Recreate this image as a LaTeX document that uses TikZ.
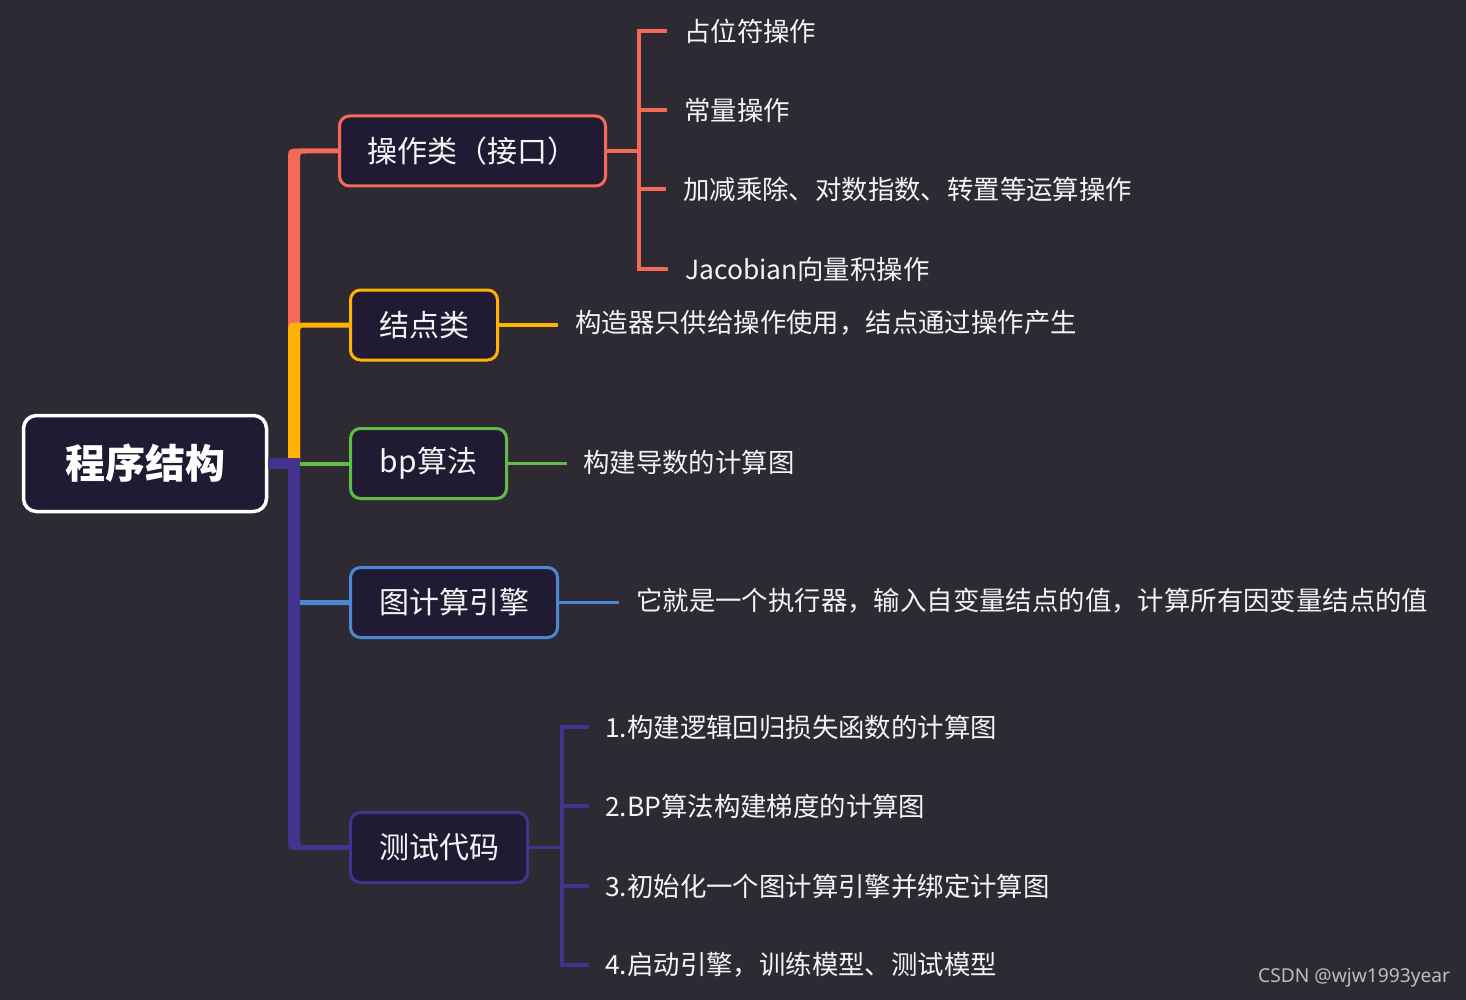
\documentclass[tikz,border=0pt]{standalone}
\usepackage{fontspec}
\setmainfont{Noto Sans CJK SC}
\newfontfamily\wmfont{Noto Sans}
\usetikzlibrary{calc}
\definecolor{bgc}{HTML}{2E2A33}
\definecolor{boxfill}{HTML}{211A33}
\definecolor{redc}{HTML}{F56A57}
\definecolor{yelc}{HTML}{FFB300}
\definecolor{grnc}{HTML}{62BB47}
\definecolor{bluc}{HTML}{4A88D4}
\definecolor{purc}{HTML}{43338F}
\definecolor{txtc}{HTML}{F4F4F4}
\definecolor{wmgray}{HTML}{BDBDBD}
\newcommand\mmbranch[4]{%
  \fill[#1] let \p1=(trunk), \p2=(#2.west) in
    ({\x1-#4},\y1) -- ({\x1-#4},{\y2-#3*11pt})
    .. controls ({\x1-#4},{\y2+#3*2.5pt}) .. ({\x1+5pt},{\y2+#3*2.5pt})
    -- (\x2,{\y2+#3*2.5pt}) -- (\x2,{\y2-#3*2.5pt})
    -- ({\x1+#4+6pt},{\y2-#3*2.5pt})
    .. controls ({\x1+#4},{\y2-#3*2.5pt}) .. ({\x1+#4},{\y2-#3*9pt})
    -- ({\x1+#4},\y1) -- cycle;}
\tikzset{
  box/.style={draw=#1, line width=3pt, fill=boxfill, rounded corners=10pt,
    text=txtc, font=\fontsize{30}{36}\selectfont, inner sep=0pt, minimum height=70pt},
  leaf/.style={anchor=west, text=txtc, inner sep=0pt, font=\fontsize{26.4}{30}\selectfont},
  conn/.style={draw=#1, line width=3.5pt},
}
\begin{document}
\begin{tikzpicture}[x=1pt,y=-1pt]
\fill[bgc] (0,0) rectangle (1466,1000);
\useasboundingbox (0,0) rectangle (1466,1000);

% main nodes (positions)
\node[draw=white, line width=3.5pt, fill=boxfill, rounded corners=13pt, text=white,
  font=\fontsize{40}{48}\selectfont\bfseries, inner sep=0pt,
  minimum width=243pt, minimum height=96pt] (root) at (145,463.5) {程序结构};
\coordinate (trunk) at (294,463.5);
\path (472.5,151) coordinate (opc) (424,325) coordinate (jdc) (428.5,463.5) coordinate (bpc)
  (454,602.5) coordinate (engc) (439,847.5) coordinate (testc);
\node[minimum width=266pt, minimum height=70pt, inner sep=0pt] (op) at (opc) {};
\node[minimum width=147pt, minimum height=70pt, inner sep=0pt] (jd) at (jdc) {};
\node[minimum width=156pt, minimum height=70pt, inner sep=0pt] (bp) at (bpc) {};
\node[minimum width=207pt, minimum height=70pt, inner sep=0pt] (eng) at (engc) {};
\node[minimum width=177pt, minimum height=70pt, inner sep=0pt] (test) at (testc) {};

% trunk branches
\mmbranch{redc}{op}{1}{6pt}
\mmbranch{yelc}{jd}{1}{6pt}
\mmbranch{bluc}{eng}{-1}{2pt}
\mmbranch{purc}{test}{-1}{6pt}
\draw[purc, line width=11pt] (root.east) -- ([xshift=6pt]trunk);
\draw[grnc, line width=4pt] ([xshift=6pt]trunk) -- (bp.west);

% boxes drawn over the branch ends
\node[box=redc, minimum width=266pt] (opbox) at (op) {操作类（接口）};
\node[box=yelc, minimum width=147pt] (jdbox) at (jd) {结点类};
\node[box=grnc, minimum width=156pt] (bpbox) at (bp) {bp算法};
\node[box=bluc, minimum width=207pt] (engbox) at (eng) {图计算引擎};
\node[box=purc, minimum width=177pt] (testbox) at (test) {测试代码};

% leaves of op
\node[leaf] (l1) at (684,31) {占位符操作};
\node[leaf] (l2) at (684,110) {常量操作};
\node[leaf] (l3) at (683,189) {加减乘除、对数指数、转置等运算操作};
\node[leaf] (l4) at (685,269) {Jacobian向量积操作};
\coordinate (obr) at (639,151);
\draw[conn=redc] (op.east) -- (obr);
\draw[conn=redc, line cap=rect] (obr |- l1.west) -- (obr |- l4.west);
\foreach \l in {l1,l2,l3,l4}
  \draw[conn=redc] (obr |- \l.west) -- ([xshift=-17pt]\l.west);

% single leaves
\node[leaf] (n1) at (575,323) {构造器只供给操作使用，结点通过操作产生};
\draw[conn=yelc] (jd.east) -- ([xshift=-17pt]n1.west |- jd.east);
\node[leaf] (b1) at (583,462) {构建导数的计算图};
\draw[conn=grnc] (bp.east) -- ([xshift=-16pt]b1.west |- bp.east);
\node[leaf] (e1) at (636,601) {它就是一个执行器，输入自变量结点的值，计算所有因变量结点的值};
\draw[conn=bluc] (eng.east) -- ([xshift=-17pt]e1.west |- eng.east);

% leaves of test
\node[leaf] (t1) at (605,727) {1.构建逻辑回归损失函数的计算图};
\node[leaf] (t2) at (605,806) {2.BP算法构建梯度的计算图};
\node[leaf] (t3) at (605,886) {3.初始化一个图计算引擎并绑定计算图};
\node[leaf] (t4) at (605,965) {4.启动引擎，训练模型、测试模型};
\coordinate (tbr) at (562,847.5);
\draw[conn=purc] (test.east) -- (tbr);
\draw[conn=purc, line cap=rect] (tbr |- t1.west) -- (tbr |- t4.west);
\foreach \l in {t1,t2,t3,t4}
  \draw[conn=purc] (tbr |- \l.west) -- ([xshift=-16pt]\l.west);

% watermark
\node[anchor=west, inner sep=0pt, text=wmgray, font=\wmfont\fontsize{19.2}{23}\selectfont] (wm) at (1258,978) {CSDN @wjw1993year};
\end{tikzpicture}
\end{document}
